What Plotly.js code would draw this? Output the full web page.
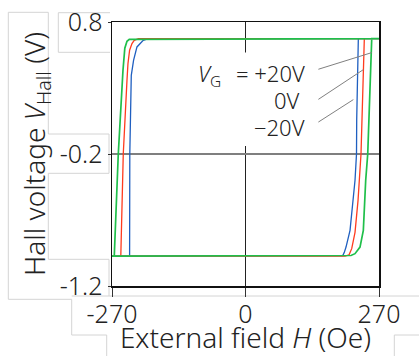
<!DOCTYPE html>
<html>
<head>
<meta charset="utf-8">
<script src="https://cdn.plot.ly/plotly-3.0.1.min.js"></script>
<style>html,body{margin:0;padding:0;background:#fff;}#chart{width:419px;height:356px;}</style>
</head>
<body>
<div id="chart"></div>
<script>
// ---- data ----
const seriesNames = ['+20V', '0V', '\u221220V'];
const seriesColors = ['#1f5fc0', '#ff3b1e', '#1fbf4a'];
const seriesWidths = [1.3, 1.3, 1.7];

// V_G = +20V (blue) loop: field H (Oe) and Hall voltage (V)
const fieldPlus20 = [270, -196.7, -206.8, -210.8, -219.5, -226.4, -231.0, -234.0, -234.4, -270, 196.7, 199.7, 203.3, 211.4, 221.5, 224.5, 224.9, 228.2, 270];
const hallPlus20  = [0.674, 0.674, 0.661, 0.646, 0.611, 0.510, 0.396, -0.2, -0.973, -0.973, -0.970, -0.947, -0.905, -0.778, -0.399, -0.2, 0.056, 0.674, 0.674];

// V_G = 0V (red) loop
const fieldZero = [270, -216.3, -225.0, -229.6, -234.4, -237.7, -239.7, -247.2, -252.2, -270, 201.3, 209.4, 214.8, 221.5, 227.6, 233.6, 236.7, 240.3, 270];
const hallZero  = [0.674, 0.674, 0.661, 0.636, 0.586, 0.485, 0.358, -0.2, -0.973, -0.973, -0.973, -0.964, -0.917, -0.793, -0.551, -0.2, 0.207, 0.674, 0.674];

// V_G = -20V (green) loop
const fieldMinus20 = [270, -229.0, -235.1, -239.7, -244.1, -247.8, -257.3, -265.4, -270, 205.4, 213.4, 221.5, 231.6, 238.3, 243.1, 247.2, 251.8, 255.3, 270];
const hallMinus20  = [0.674, 0.674, 0.669, 0.654, 0.601, 0.434, -0.2, -0.973, -0.973, -0.973, -0.969, -0.955, -0.905, -0.778, -0.399, -0.2, 0.283, 0.674, 0.674];

const xTickVals = [-270, 0, 270];
const xTickText = ['-270', '0', '270'];
const yTickVals = [0.8, -0.2, -1.2];
const yTickText = ['0.8', '-0.2', '-1.2'];

// ---- chart ----
const FONT = '"Noto Sans", sans-serif';
const W = 419, H = 356;
const M = {l: 112, r: 40, t: 22, b: 70};
const PW = W - M.l - M.r, PH = H - M.t - M.b;
const px = v => (v - M.l) / PW;       // pixel -> paper x (decorations only)
const py = v => (M.t + PH - v) / PH;  // pixel -> paper y

const fields = [fieldPlus20, fieldZero, fieldMinus20];
const halls = [hallPlus20, hallZero, hallMinus20];
const traces = fields.map((f, i) => ({
  type: 'scatter', mode: 'lines', x: f, y: halls[i], name: seriesNames[i],
  line: {color: seriesColors[i], width: seriesWidths[i]}, hoverinfo: 'skip', showlegend: false
}));

function seg(x0, y0, x1, y1) {
  return {type: 'line', xref: 'paper', yref: 'paper', x0: px(x0), y0: py(y0), x1: px(x1), y1: py(y1),
          line: {color: '#d4d4d4', width: 1}, layer: 'below'};
}
const boxShapes = [
  seg(8.3, 12.3, 48.3, 12.3), seg(8.3, 12.3, 8.3, 299.3), seg(8.3, 299.3, 71.7, 299.3),
  seg(48.3, 12.3, 48.3, 134), seg(48.3, 134, 109, 134), seg(109, 134, 109, 173.3),
  seg(109, 173.3, 48.3, 173.3), seg(48.3, 173.3, 48.3, 259.3), seg(48.3, 259.3, 109, 259.3),
  seg(109, 259.3, 109, 296),
  seg(58.3, 12.7, 110, 12.7), seg(58.3, 12.7, 58.3, 52.3), seg(58.3, 52.3, 110, 52.3),
  seg(71.7, 296, 419, 296), seg(71.7, 299.3, 71.7, 335), seg(71.7, 335, 106.7, 335), seg(106.7, 335, 106.7, 356),
  seg(394.3, 335, 419, 335), seg(394.3, 335, 394.3, 356)
];

const labelShapes = [
  // white label box hiding the x = 0 grid line
  {type: 'rect', xref: 'x', yref: 'y', x0: -111, x1: 151, y0: -0.139, y1: 0.568,
   fillcolor: '#ffffff', line: {width: 0}, layer: 'between'},
  // leader lines
  {type: 'line', xref: 'x', yref: 'y', x0: 147.4, y0: 0.442, x1: 255.3, y1: 0.568, line: {color: '#808080', width: 1}, layer: 'above'},
  {type: 'line', xref: 'x', yref: 'y', x0: 147.4, y0: 0.214, x1: 238.3, y1: 0.439, line: {color: '#808080', width: 1}, layer: 'above'},
  {type: 'line', xref: 'x', yref: 'y', x0: 147.4, y0: 0.042, x1: 218.1, y1: 0.212, line: {color: '#808080', width: 1}, layer: 'above'}
];

const annFont = {family: FONT, size: 22, color: '#222', weight: 300};
const annotations = [
  {xref: 'x', yref: 'y', x: -100, y: 0.40, xanchor: 'left', yanchor: 'middle', showarrow: false,
   text: '<i>V</i><sub>G</sub>', font: annFont},
  {xref: 'x', yref: 'y', x: 124.5, y: 0.411, xanchor: 'right', yanchor: 'middle', showarrow: false,
   text: '= +20V', font: annFont},
  {xref: 'x', yref: 'y', x: 114.5, y: 0.207, xanchor: 'right', yanchor: 'middle', showarrow: false,
   text: '0V', font: annFont},
  {xref: 'x', yref: 'y', x: 124.5, y: 0.005, xanchor: 'right', yanchor: 'middle', showarrow: false,
   text: '\u221220V', font: annFont}
];

const layout = {
  width: W, height: H, margin: M,
  paper_bgcolor: '#ffffff', plot_bgcolor: '#ffffff',
  font: {family: FONT, color: '#222'},
  showlegend: false,
  xaxis: {
    range: [-270, 270], tickvals: xTickVals, ticktext: xTickText,
    ticks: 'outside', ticklen: 9, tickwidth: 1, tickcolor: '#333',
    showline: true, mirror: true, linecolor: '#111', linewidth: 1.5,
    showgrid: true, gridcolor: '#222', gridwidth: 1, zeroline: false,
    tickfont: {family: FONT, size: 25, color: '#222', weight: 300},
    ticklabelstandoff: -4,
    title: {text: 'External field <i>H</i> (Oe)', font: {family: FONT, size: 28, color: '#222', weight: 300}, standoff: 8}
  },
  yaxis: {
    range: [-1.2, 0.8], tickvals: yTickVals, ticktext: yTickText,
    ticks: 'outside', ticklen: 3, tickwidth: 1, tickcolor: '#333',
    showline: true, mirror: true, linecolor: '#111', linewidth: 1.5,
    showgrid: true, gridcolor: '#7f7f7f', gridwidth: 1.5, zeroline: false,
    tickfont: {family: FONT, size: 25, color: '#222', weight: 300},
    title: {text: 'Hall voltage <i>V</i><sub>Hall</sub> (V)\u00a0\u00a0\u00a0\u00a0', font: {family: FONT, size: 28, color: '#222', weight: 300}, standoff: 6}
  },
  shapes: boxShapes.concat(labelShapes),
  annotations: annotations
};

Plotly.newPlot('chart', traces, layout, {staticPlot: true, displayModeBar: false});
</script>
</body>
</html>
